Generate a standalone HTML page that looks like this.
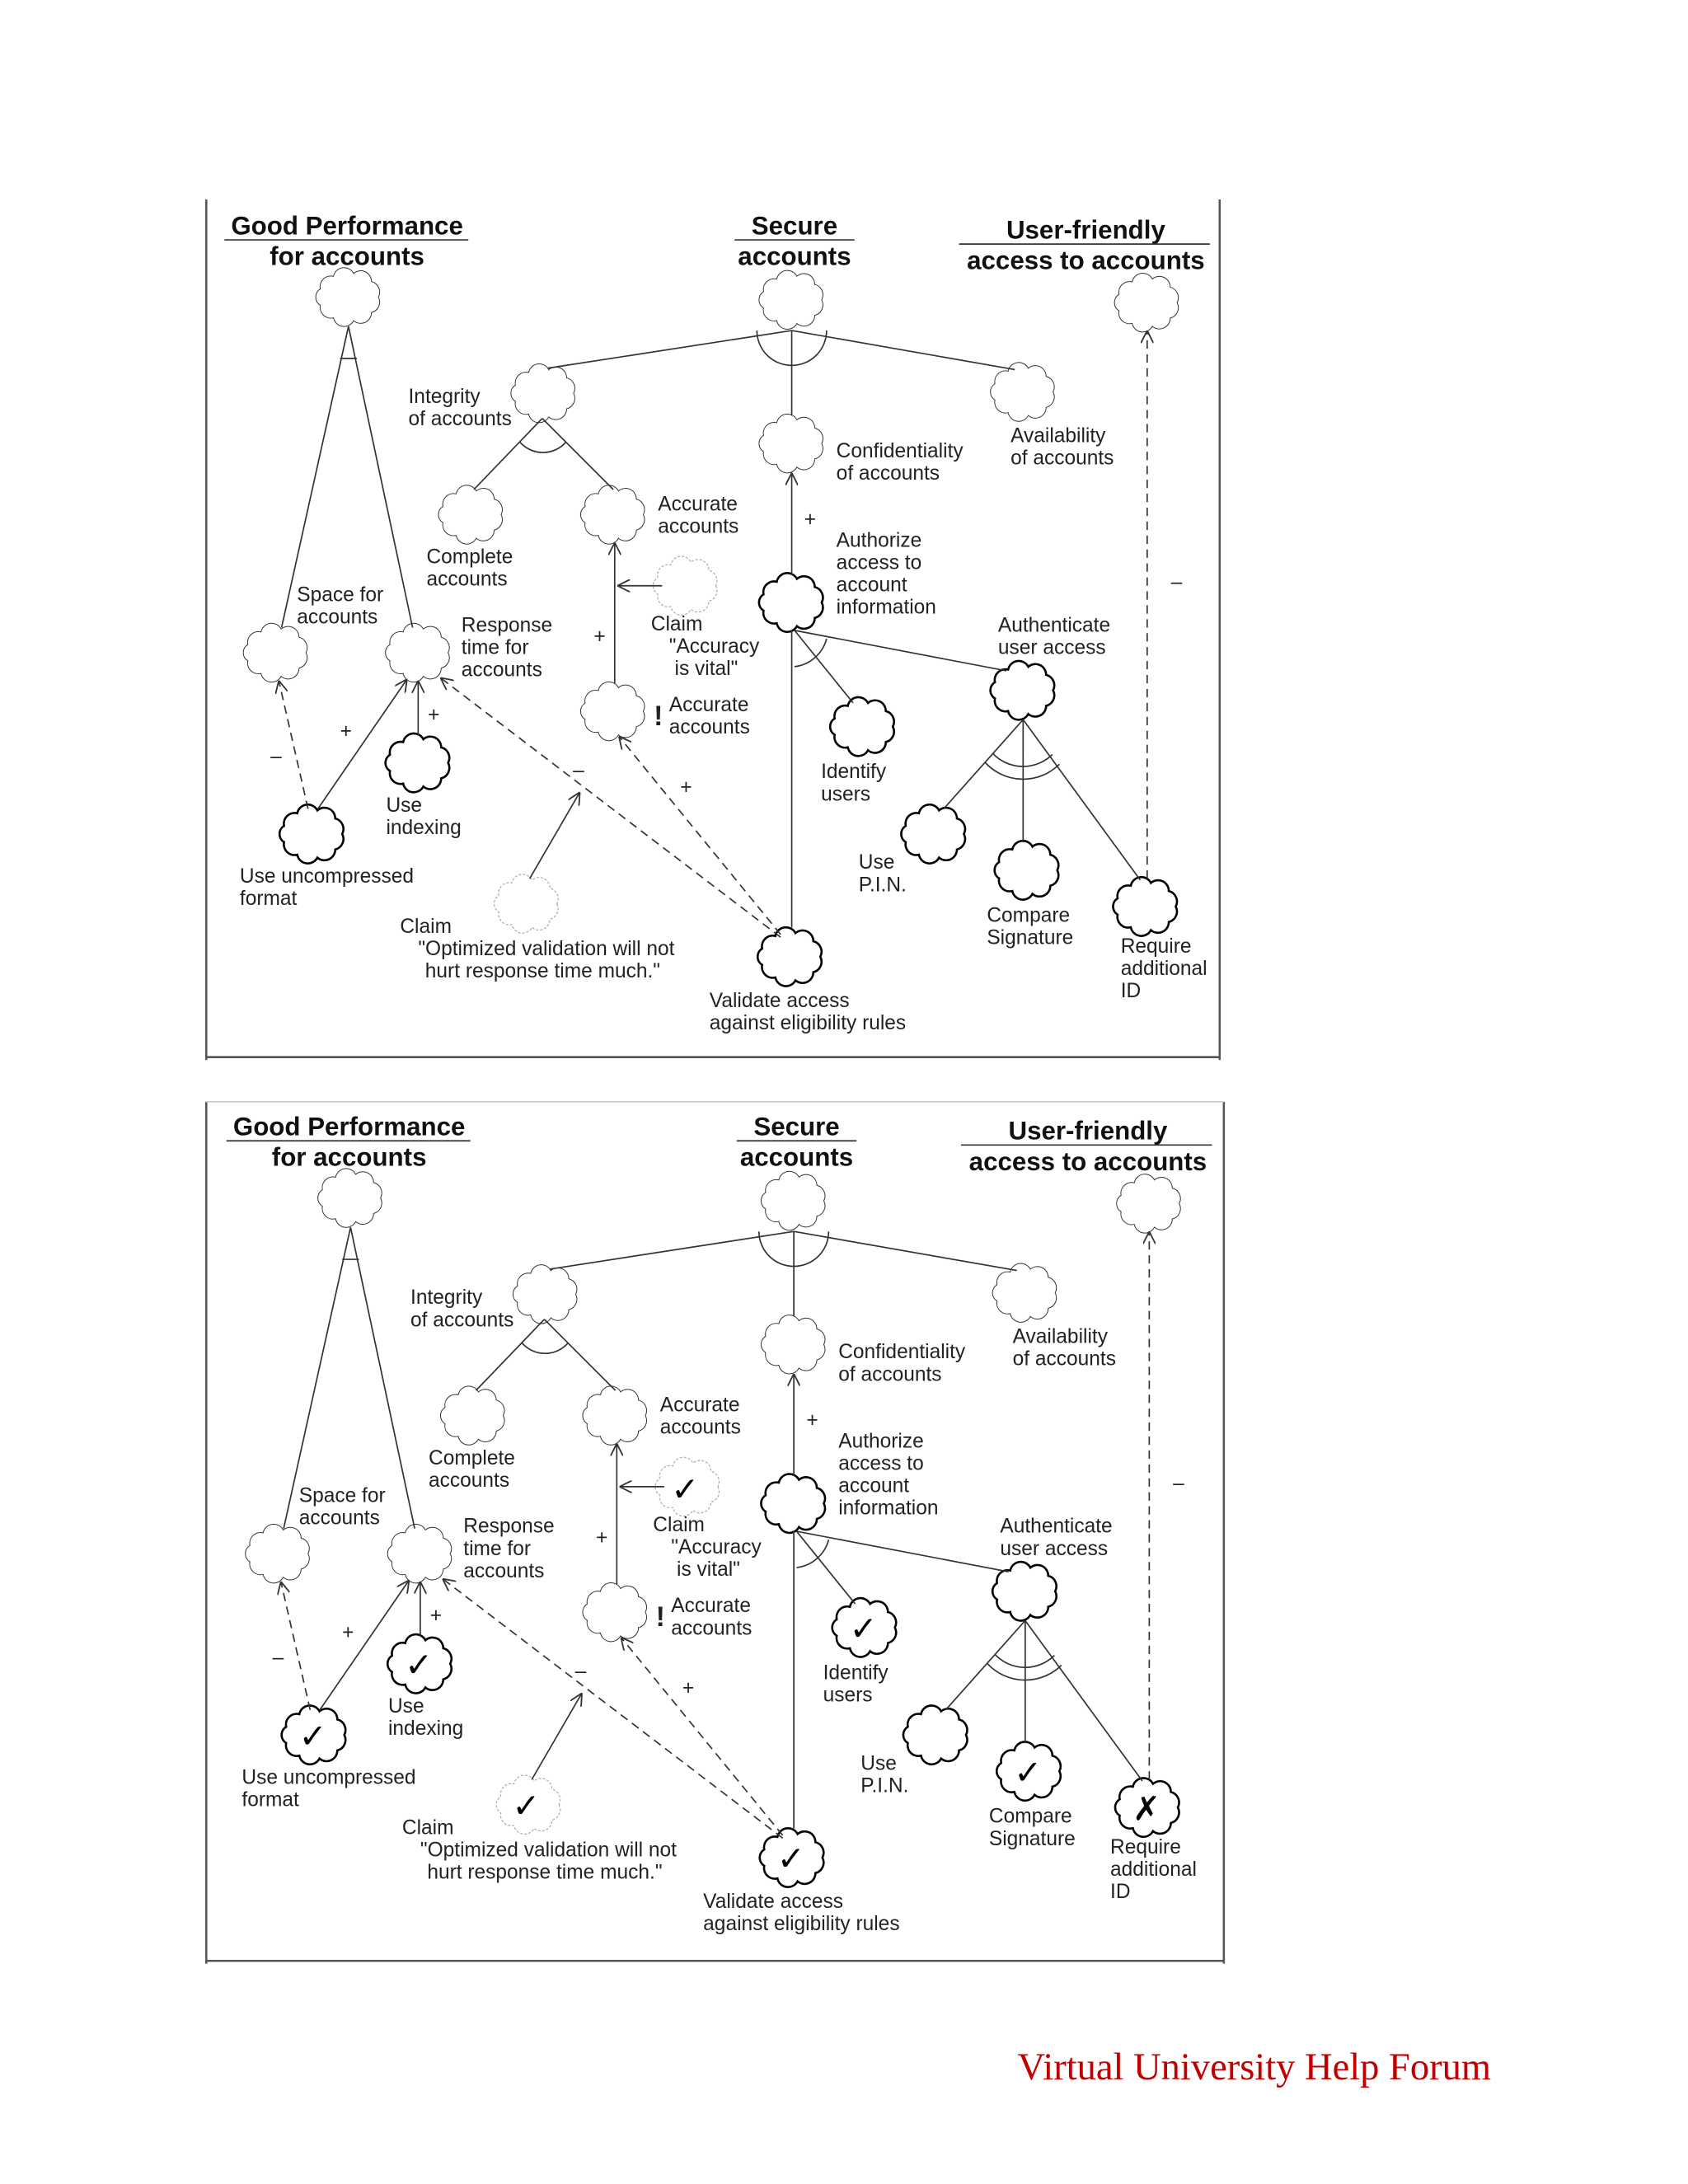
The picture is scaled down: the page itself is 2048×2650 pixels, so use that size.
<!DOCTYPE html>
<html><head><meta charset="utf-8"><style>
html,body{margin:0;padding:0;background:#fff;width:2048px;height:2650px;overflow:hidden}
svg{display:block}
text{font-family:"Liberation Sans",Arial,sans-serif;font-size:14.5px;fill:#222}
.t{font-size:18.5px;font-weight:bold;text-anchor:middle;fill:#111}
.c{fill:none;stroke:#333;stroke-width:1}
.b{fill:none;stroke:#000;stroke-width:2.6}
.d{fill:none;stroke:#aaa;stroke-width:1.2;stroke-dasharray:3 2}
.l{stroke:#333;stroke-width:1;fill:none}
.dl{stroke:#333;stroke-width:1;fill:none;stroke-dasharray:6 4}
.fr{stroke:#555;stroke-width:1.5;fill:none}
.ck{font-family:"DejaVu Sans",sans-serif;font-size:24px;font-weight:bold;text-anchor:middle;fill:#000}
</style></head><body>
<svg width="2048" height="2650" viewBox="0 0 1211 1566" preserveAspectRatio="none" xmlns="http://www.w3.org/2000/svg">
<defs>
<g id="cl"><path transform="scale(0.86)" vector-effect="non-scaling-stroke" d="M25,0 A9,9 0 0 1 19.2,12.9 A9,9 0 0 1 4.3,19.7 A9,9 0 0 1 -12.5,17.3 A9,9 0 0 1 -23.5,6.8 A8,8 0 0 1 -23.5,-6.8 A9,9 0 0 1 -12.5,-17.3 A9,9 0 0 1 4.3,-19.7 A9,9 0 0 1 19.2,-12.9 A9,9 0 0 1 25,0 Z"/></g>
<marker id="ar" viewBox="0 0 10 10" refX="10" refY="5" markerWidth="9" markerHeight="9" orient="auto" markerUnits="userSpaceOnUse"><path d="M0,0 L10,5 L0,10" fill="none" stroke="#333" stroke-width="1.2"/></marker>
</defs>

<!-- TOP DIAGRAM -->
<g>
<path class="fr" d="M148,143 V760 M875,143 V760 M148,758 H875"/>
<text class="t" x="249" y="168">Good Performance</text><line x1="161" y1="172" x2="336" y2="172" class="l"/>
<text class="t" x="249" y="190">for accounts</text>
<text class="t" x="570" y="168">Secure</text><line x1="527" y1="172" x2="613" y2="172" class="l"/>
<text class="t" x="570" y="190">accounts</text>
<text class="t" x="779" y="171">User-friendly</text><line x1="688" y1="175" x2="868" y2="175" class="l"/>
<text class="t" x="779" y="193">access to accounts</text>

<use href="#cl" class="c" x="250" y="213"/>
<use href="#cl" class="c" x="568" y="215"/>
<use href="#cl" class="c" x="823" y="217"/>
<use href="#cl" class="c" x="390" y="282"/>
<use href="#cl" class="c" x="734" y="281"/>
<use href="#cl" class="c" x="568" y="318"/>
<use href="#cl" class="c" x="338" y="369"/>
<use href="#cl" class="c" x="440" y="369"/>
<use href="#cl" class="d" x="492" y="420"/>
<use href="#cl" class="b" x="568" y="432"/>
<use href="#cl" class="c" x="198" y="468"/>
<use href="#cl" class="c" x="300" y="468"/>
<use href="#cl" class="c" x="440" y="510"/>
<use href="#cl" class="b" x="734" y="495"/>
<use href="#cl" class="b" x="619" y="521"/>
<use href="#cl" class="b" x="300" y="547"/>
<use href="#cl" class="b" x="224" y="598"/>
<use href="#cl" class="b" x="670" y="598"/>
<use href="#cl" class="b" x="737" y="624"/>
<use href="#cl" class="b" x="822" y="650"/>
<use href="#cl" class="d" x="378" y="648"/>
<use href="#cl" class="b" x="567" y="686"/>

<path class="l" d="M250,234 L202,450 M250,234 L296,450 M244,257 H256"/>
<path class="l" d="M568,237 L393,264 M568,237 L728,265 M568,237 V298 M543,237 A25,25 0 0 0 593,237"/>
<path class="l" d="M389,300 L340,351 M389,300 L440,351 M373,317 A22,22 0 0 0 406,317"/>
<path class="l" d="M568,412 V339" marker-end="url(#ar)"/>
<path class="l" d="M568,452 V665 M570,452 L612,504 M570,452 L722,481 M570,478 A27,27 0 0 0 593,458"/>
<path class="l" d="M734,516 L677,580 M734,516 V604 M734,516 L818,631 M712,540 A30,30 0 0 0 755,541 M707,547 A37,37 0 0 0 760,548"/>
<path class="dl" d="M823,630 V237" marker-end="url(#ar)"/>
<path class="l" d="M441,490 V389" marker-end="url(#ar)"/>
<path class="l" d="M475,420 H443" marker-end="url(#ar)"/>
<path class="dl" d="M560,670 L444,528" marker-end="url(#ar)"/>
<path class="dl" d="M560,672 L316,486" marker-end="url(#ar)"/>
<path class="l" d="M380,630 L416,568" marker-end="url(#ar)"/>
<path class="l" d="M300,527 V488" marker-end="url(#ar)"/>
<path class="l" d="M228,580 L292,487" marker-end="url(#ar)"/>
<path class="dl" d="M221,580 L200,488" marker-end="url(#ar)"/>

<text x="577" y="377">+</text><text x="840" y="422">–</text><text x="426" y="461">+</text>
<text x="488" y="569">+</text><text x="411" y="557">–</text><text x="307" y="517">+</text>
<text x="244" y="529">+</text><text x="194" y="547">–</text>
<text x="469" y="520" style="font-size:20px;font-weight:bold">!</text>

<text x="293" y="289">Integrity</text><text x="293" y="305">of accounts</text>
<text x="725" y="317">Availability</text><text x="725" y="333">of accounts</text>
<text x="600" y="328">Confidentiality</text><text x="600" y="344">of accounts</text>
<text x="306" y="404">Complete</text><text x="306" y="420">accounts</text>
<text x="472" y="366">Accurate</text><text x="472" y="382">accounts</text>
<text x="600" y="392">Authorize</text><text x="600" y="408">access to</text><text x="600" y="424">account</text><text x="600" y="440">information</text>
<text x="467" y="452">Claim</text><text x="480" y="468">"Accuracy</text><text x="484" y="484">is vital"</text>
<text x="213" y="431">Space for</text><text x="213" y="447">accounts</text>
<text x="331" y="453">Response</text><text x="331" y="469">time for</text><text x="331" y="485">accounts</text>
<text x="716" y="453">Authenticate</text><text x="716" y="469">user access</text>
<text x="480" y="510">Accurate</text><text x="480" y="526">accounts</text>
<text x="589" y="558">Identify</text><text x="589" y="574">users</text>
<text x="277" y="582">Use</text><text x="277" y="598">indexing</text>
<text x="172" y="633">Use uncompressed</text><text x="172" y="649">format</text>
<text x="616" y="623">Use</text><text x="616" y="639">P.I.N.</text>
<text x="708" y="661">Compare</text><text x="708" y="677">Signature</text>
<text x="804" y="683">Require</text><text x="804" y="699">additional</text><text x="804" y="715">ID</text>
<text x="287" y="669">Claim</text><text x="300" y="685">"Optimized validation will not</text><text x="305" y="701">hurt response time much."</text>
<text x="509" y="722">Validate access</text><text x="509" y="738">against eligibility rules</text>
</g>

<!-- BOTTOM DIAGRAM -->
<path class="fr" d="M148,790 V1408 M878,790 V1408 M148,1406 H878"/>
<path d="M148,790 H878" stroke="#ccc" stroke-width="1"/>
<g transform="translate(1.5,646)">
<text class="t" x="249" y="168">Good Performance</text><line x1="161" y1="172" x2="336" y2="172" class="l"/>
<text class="t" x="249" y="190">for accounts</text>
<text class="t" x="570" y="168">Secure</text><line x1="527" y1="172" x2="613" y2="172" class="l"/>
<text class="t" x="570" y="190">accounts</text>
<text class="t" x="779" y="171">User-friendly</text><line x1="688" y1="175" x2="868" y2="175" class="l"/>
<text class="t" x="779" y="193">access to accounts</text>

<use href="#cl" class="c" x="250" y="213"/>
<use href="#cl" class="c" x="568" y="215"/>
<use href="#cl" class="c" x="823" y="217"/>
<use href="#cl" class="c" x="390" y="282"/>
<use href="#cl" class="c" x="734" y="281"/>
<use href="#cl" class="c" x="568" y="318"/>
<use href="#cl" class="c" x="338" y="369"/>
<use href="#cl" class="c" x="440" y="369"/>
<use href="#cl" class="d" x="492" y="420"/>
<use href="#cl" class="b" x="568" y="432"/>
<use href="#cl" class="c" x="198" y="468"/>
<use href="#cl" class="c" x="300" y="468"/>
<use href="#cl" class="c" x="440" y="510"/>
<use href="#cl" class="b" x="734" y="495"/>
<use href="#cl" class="b" x="619" y="521"/>
<use href="#cl" class="b" x="300" y="547"/>
<use href="#cl" class="b" x="224" y="598"/>
<use href="#cl" class="b" x="670" y="598"/>
<use href="#cl" class="b" x="737" y="624"/>
<use href="#cl" class="b" x="822" y="650"/>
<use href="#cl" class="d" x="378" y="648"/>
<use href="#cl" class="b" x="567" y="686"/>

<text class="ck" x="490" y="430">✓</text>
<text class="ck" x="618" y="530">✓</text>
<text class="ck" x="299" y="556">✓</text>
<text class="ck" x="223" y="607">✓</text>
<text class="ck" x="736" y="633">✓</text>
<text class="ck" x="821" y="659">✗</text>
<text class="ck" x="376" y="657">✓</text>
<text class="ck" x="566" y="695">✓</text>

<path class="l" d="M250,234 L202,450 M250,234 L296,450 M244,257 H256"/>
<path class="l" d="M568,237 L393,264 M568,237 L728,265 M568,237 V298 M543,237 A25,25 0 0 0 593,237"/>
<path class="l" d="M389,300 L340,351 M389,300 L440,351 M373,317 A22,22 0 0 0 406,317"/>
<path class="l" d="M568,412 V339" marker-end="url(#ar)"/>
<path class="l" d="M568,452 V665 M570,452 L612,504 M570,452 L722,481 M570,478 A27,27 0 0 0 593,458"/>
<path class="l" d="M734,516 L677,580 M734,516 V604 M734,516 L818,631 M712,540 A30,30 0 0 0 755,541 M707,547 A37,37 0 0 0 760,548"/>
<path class="dl" d="M823,630 V237" marker-end="url(#ar)"/>
<path class="l" d="M441,490 V389" marker-end="url(#ar)"/>
<path class="l" d="M475,420 H443" marker-end="url(#ar)"/>
<path class="dl" d="M560,670 L444,528" marker-end="url(#ar)"/>
<path class="dl" d="M560,672 L316,486" marker-end="url(#ar)"/>
<path class="l" d="M380,630 L416,568" marker-end="url(#ar)"/>
<path class="l" d="M300,527 V488" marker-end="url(#ar)"/>
<path class="l" d="M228,580 L292,487" marker-end="url(#ar)"/>
<path class="dl" d="M221,580 L200,488" marker-end="url(#ar)"/>

<text x="577" y="377">+</text><text x="840" y="422">–</text><text x="426" y="461">+</text>
<text x="488" y="569">+</text><text x="411" y="557">–</text><text x="307" y="517">+</text>
<text x="244" y="529">+</text><text x="194" y="547">–</text>
<text x="469" y="520" style="font-size:20px;font-weight:bold">!</text>

<text x="293" y="289">Integrity</text><text x="293" y="305">of accounts</text>
<text x="725" y="317">Availability</text><text x="725" y="333">of accounts</text>
<text x="600" y="328">Confidentiality</text><text x="600" y="344">of accounts</text>
<text x="306" y="404">Complete</text><text x="306" y="420">accounts</text>
<text x="472" y="366">Accurate</text><text x="472" y="382">accounts</text>
<text x="600" y="392">Authorize</text><text x="600" y="408">access to</text><text x="600" y="424">account</text><text x="600" y="440">information</text>
<text x="467" y="452">Claim</text><text x="480" y="468">"Accuracy</text><text x="484" y="484">is vital"</text>
<text x="213" y="431">Space for</text><text x="213" y="447">accounts</text>
<text x="331" y="453">Response</text><text x="331" y="469">time for</text><text x="331" y="485">accounts</text>
<text x="716" y="453">Authenticate</text><text x="716" y="469">user access</text>
<text x="480" y="510">Accurate</text><text x="480" y="526">accounts</text>
<text x="589" y="558">Identify</text><text x="589" y="574">users</text>
<text x="277" y="582">Use</text><text x="277" y="598">indexing</text>
<text x="172" y="633">Use uncompressed</text><text x="172" y="649">format</text>
<text x="616" y="623">Use</text><text x="616" y="639">P.I.N.</text>
<text x="708" y="661">Compare</text><text x="708" y="677">Signature</text>
<text x="795" y="683">Require</text><text x="795" y="699">additional</text><text x="795" y="715">ID</text>
<text x="287" y="669">Claim</text><text x="300" y="685">"Optimized validation will not</text><text x="305" y="701">hurt response time much."</text>
<text x="503" y="722">Validate access</text><text x="503" y="738">against eligibility rules</text>
</g>

<text x="730" y="1491" style="font-family:'Liberation Serif',serif;font-size:27.5px;fill:#c00000">Virtual University Help Forum</text>
</svg>
</body></html>
